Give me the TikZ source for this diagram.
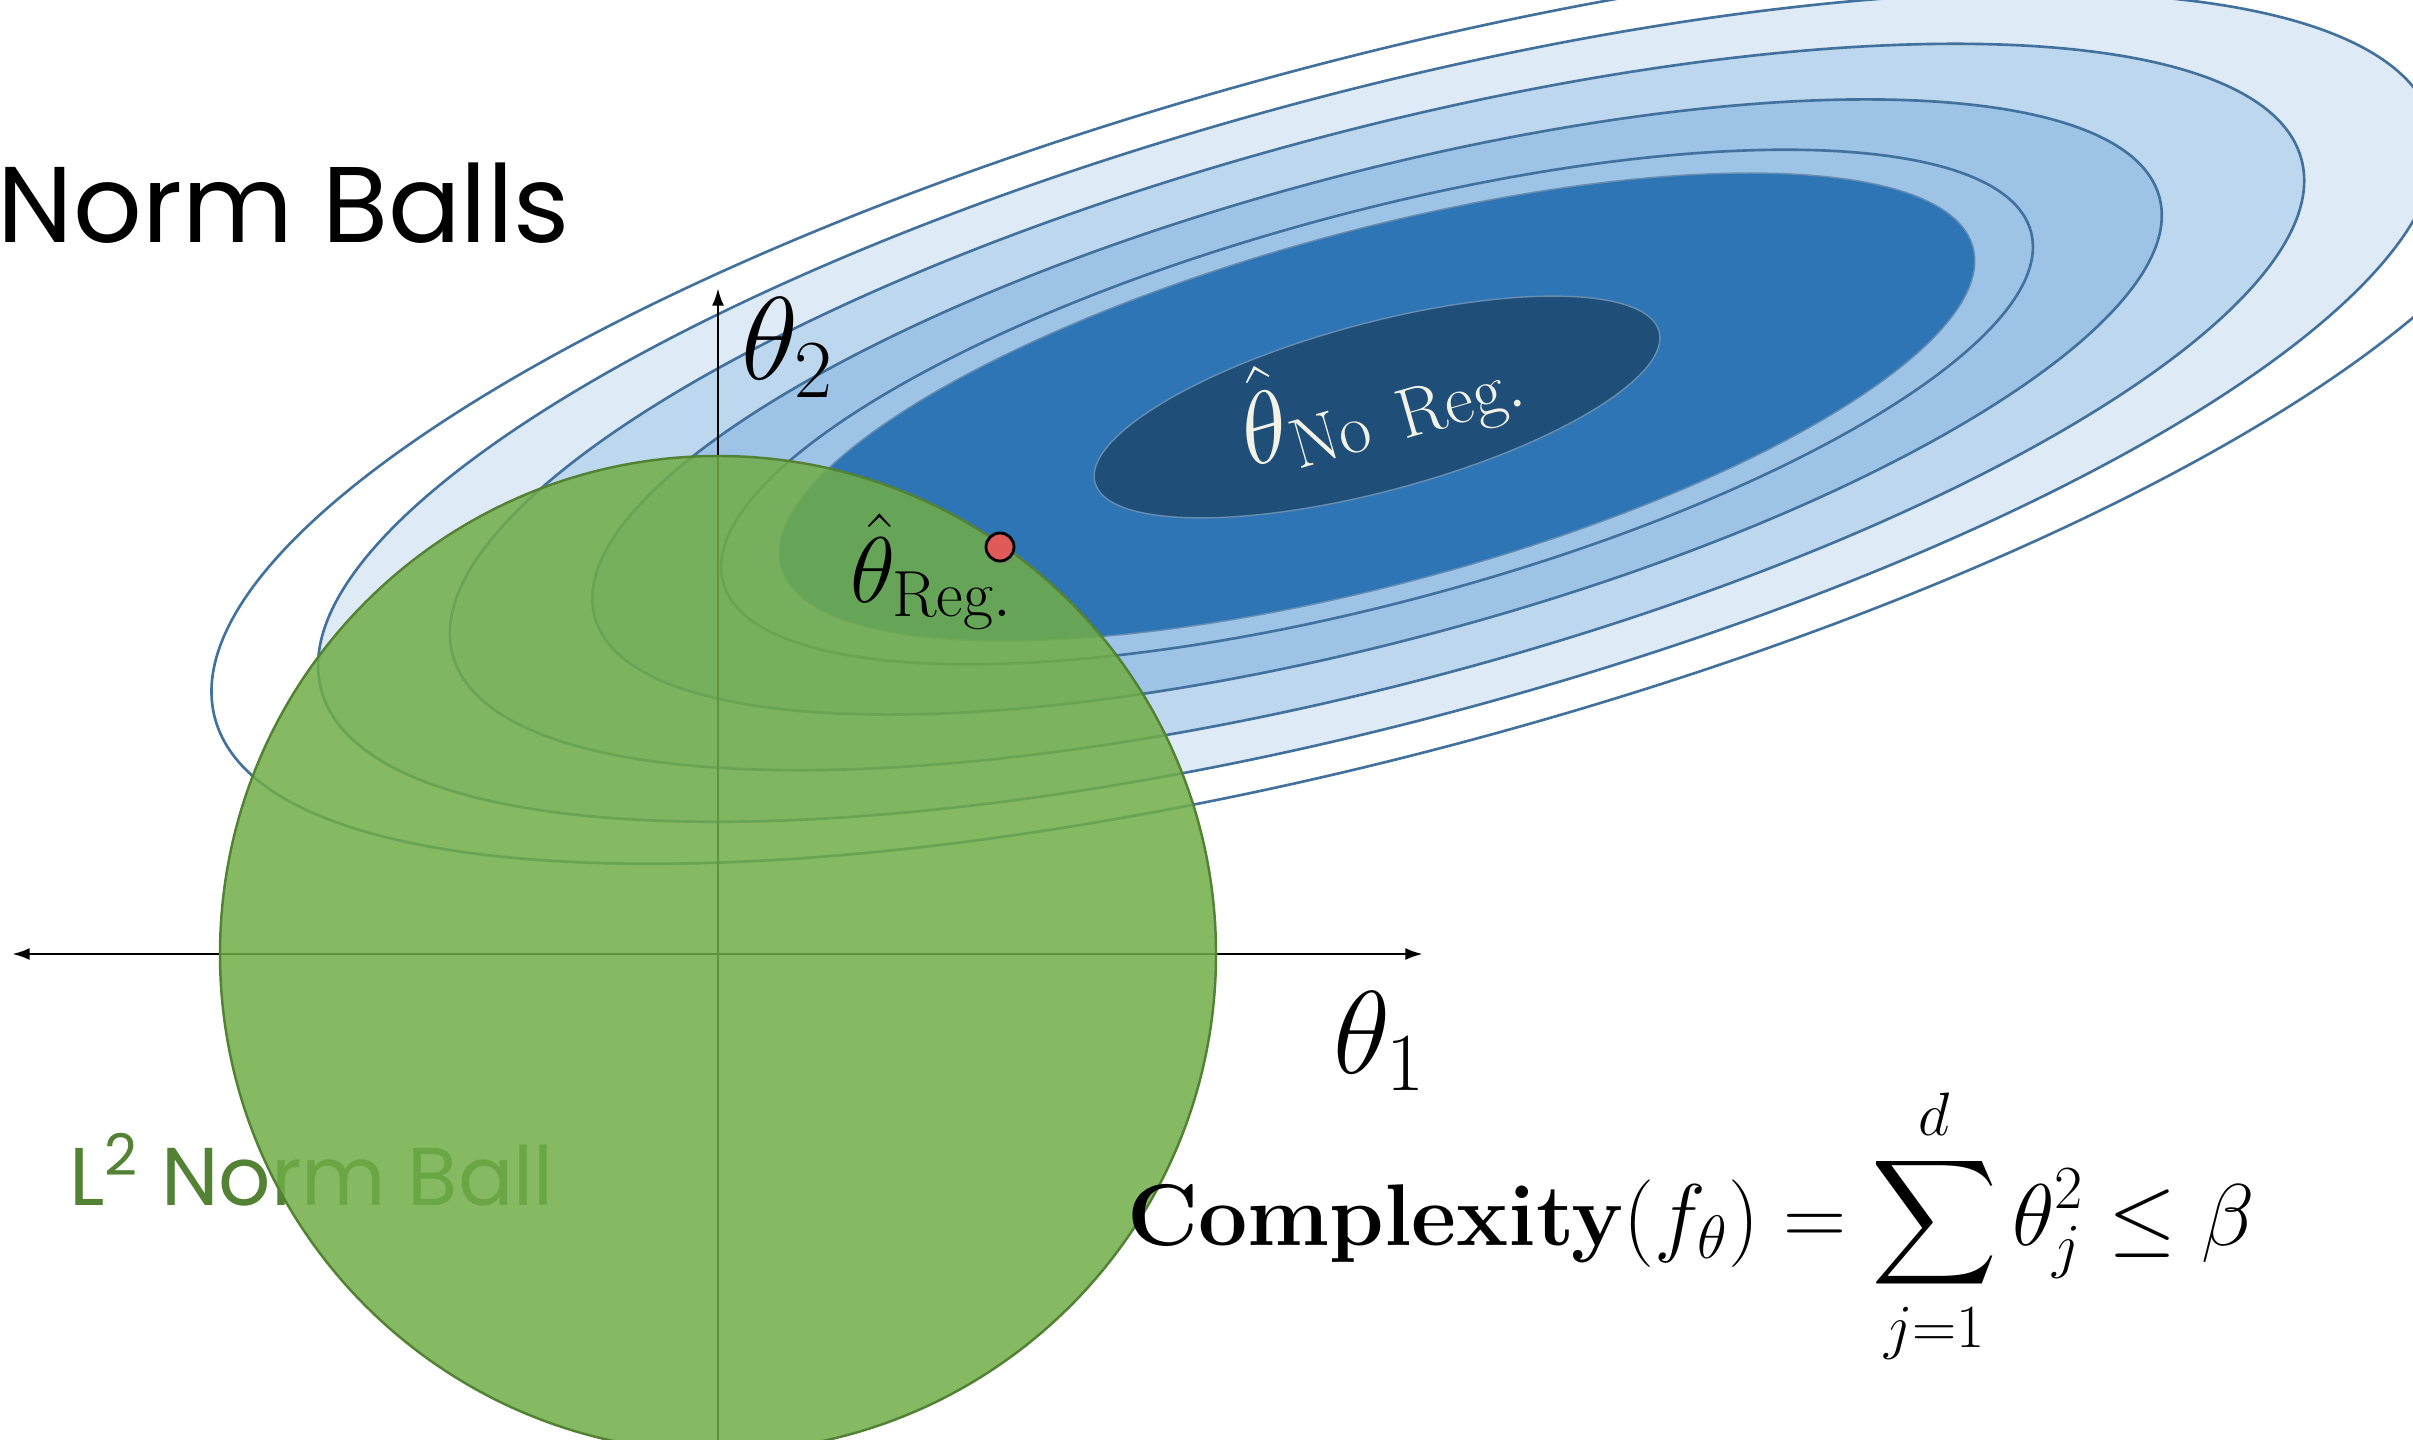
\RequirePackage{fix-cm}
\documentclass[tikz,border=0pt]{standalone}
\usepackage{amsmath}
\usepackage{fontspec}
\newfontfamily\gothic{Poppins}
\definecolor{lineblue}{HTML}{41719C}
\definecolor{blueA}{HTML}{DEEBF7}
\definecolor{blueB}{HTML}{BDD7EE}
\definecolor{blueC}{HTML}{9DC3E6}
\definecolor{blueD}{HTML}{2E75B6}
\definecolor{blueE}{HTML}{1F4E79}
\definecolor{ballgreen}{HTML}{70AD47}
\definecolor{darkgreen}{HTML}{548235}
\definecolor{dotred}{HTML}{E05A5A}
\definecolor{cream}{HTML}{F2F2E6}
\usetikzlibrary{arrows.meta,shadows}

\begin{document}
\begin{tikzpicture}[x=0.01cm, y=-0.01cm,
    contour/.style={draw=lineblue, line width=0.75pt},
    axisline/.style={line width=0.8pt},
    lbl/.style={inner sep=0pt, outer sep=0pt, anchor=base west}]
    \clip (0,0) rectangle (2413,1440);
    \fill[white] (0,0) rectangle (2413,1440);
    \coordinate (C) at (1377,407);
    \coordinate (O) at (718,954);
    % level sets of the loss
    \draw[contour, fill=white, rotate around={15:(C)}] (C) ellipse [x radius=1203, y radius=346];
    \draw[contour, fill=blueA, rotate around={15:(C)}] (C) ellipse [x radius=1093, y radius=314];
    \draw[contour, fill=blueB, rotate around={15:(C)}] (C) ellipse [x radius=957, y radius=275];
    \draw[contour, fill=blueC, rotate around={15:(C)}] (C) ellipse [x radius=810, y radius=233];
    \draw[contour, fill=blueC, rotate around={15:(C)}] (C) ellipse [x radius=677, y radius=195];
    \draw[draw=lineblue!80, line width=0.4pt, fill=blueD, rotate around={15:(C)}] (C) ellipse [x radius=617, y radius=177];
    \draw[draw=lineblue!80, line width=0.4pt, fill=blueE, rotate around={15:(C)}] (C) ellipse [x radius=292, y radius=84];
    \node[lbl, text=darkgreen, font=\gothic\fontsize{23.3}{28}\selectfont] (ballname) at (69,1205) {L\textsuperscript{2} Norm Ball};
    % axes
    \coordinate (xl) at (12,954);
    \coordinate (xr) at (1423,954);
    \coordinate (yb) at (718,1450);
    \coordinate (yt) at (718,288);
    \draw[axisline, {Latex[length=5pt,width=3.4pt]}-{Latex[length=5pt,width=3.4pt]}] (xl) -- (xr);
    \draw[axisline, -{Latex[length=5pt,width=3.4pt]}] (yb) -- (yt);
    % the ball
    \draw[draw=darkgreen, line width=0.7pt, fill=ballgreen, fill opacity=0.85] (O) circle [radius=498];
    \node[lbl, font=\fontsize{33.5}{40}\selectfont] (t2) at (741,380) {$\theta_2$};
    \node[lbl, font=\fontsize{33.5}{40}\selectfont] (t1) at (1333,1073) {$\theta_1$};
    \node[lbl, font=\fontsize{26.5}{30}\selectfont] (treg) at (850,603) {$\hat{\theta}_{\mathrm{Reg.}}$};
    \node[lbl, rotate=16, text=cream, font=\fontsize{28.5}{32}\selectfont] (tnoreg) at (1250,468) {$\hat{\theta}_{\mathrm{No\ Reg.}}$};
    \node[circle, draw=black, line width=0.8pt, fill=dotred, minimum size=0.28cm, inner sep=0pt,
        drop shadow={shadow xshift=0.5pt, shadow yshift=-1pt, opacity=0.35}] (dot) at (1000,547) {};
    \node[lbl, font=\gothic\fontsize{30.6}{36}\selectfont] (title) at (-2,243) {Norm Balls};
    \node[lbl, font=\fontsize{24.9}{28}\selectfont] (cplx) at (1127,1245)
        {$\displaystyle\textbf{Complexity}(f_\theta)=\sum_{j=1}^{d}\theta_j^2\le\beta$};
\end{tikzpicture}
\end{document}
